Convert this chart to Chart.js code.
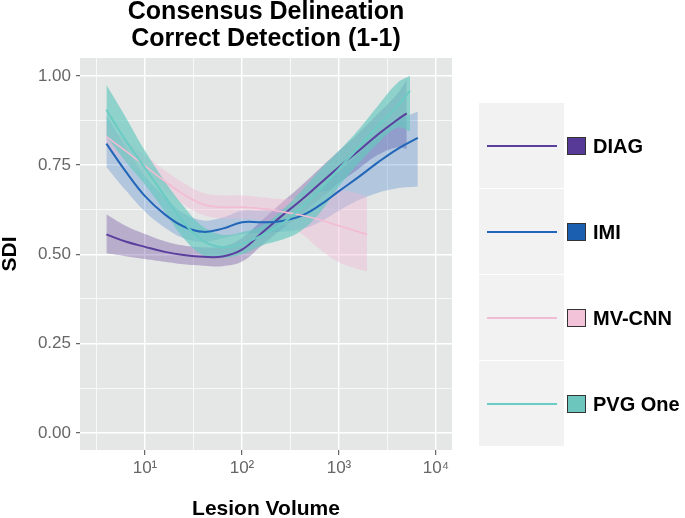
<!DOCTYPE html>
<html>
<head>
<meta charset="utf-8">
<script src="https://cdn.jsdelivr.net/npm/chart.js@4.4.1/dist/chart.umd.min.js"></script>
<style>
    body { margin: 0; background: #fff; }
    #wrap { position: relative; width: 685px; height: 518px; }
    #legend { position: absolute; left: 479px; top: 103px; font-family: "Liberation Sans", Arial, sans-serif; }
    .row { position: absolute; left: 0; width: 206px; height: 85px; }
    .key { position: absolute; left: 0; top: 0; width: 85px; height: 85px; background: #f2f2f2; }
    .sample { position: absolute; left: 8px; top: 42px; width: 70px; height: 2px; }
    .box { position: absolute; left: 88px; top: 34px; width: 17px; height: 16px; border: 1.5px solid #333; }
    .name { position: absolute; left: 114px; top: 33px; font-size: 20px; line-height: 20px; font-weight: bold; color: #000; white-space: nowrap; }
</style>
</head>
<body>
<div id="wrap">
    <canvas id="sdiChart" width="685" height="518"></canvas>
    <div id="legend"></div>
</div>
<script>
// Lesion volume (x) and SDI (smoothed fit with its confidence band) per method
var diagVolume = [4, 6.3, 10, 16, 25, 40, 63, 100, 160, 250, 400, 630, 1000, 1600, 2500, 4000, 5000];
var diagSdi    = [0.556, 0.536, 0.521, 0.507, 0.498, 0.493, 0.494, 0.513, 0.560, 0.605, 0.650, 0.697, 0.745, 0.790, 0.835, 0.877, 0.895];
var diagLow    = [0.503, 0.495, 0.487, 0.479, 0.472, 0.468, 0.467, 0.480, 0.525, 0.568, 0.610, 0.655, 0.700, 0.740, 0.778, 0.800, 0.795];
var diagHigh   = [0.612, 0.580, 0.557, 0.537, 0.525, 0.520, 0.522, 0.546, 0.595, 0.642, 0.690, 0.740, 0.790, 0.840, 0.893, 0.950, 0.990];

var imiVolume = [4, 6.3, 10, 16, 25, 40, 63, 100, 160, 250, 400, 630, 1000, 1600, 2500, 4000, 6500];
var imiSdi    = [0.810, 0.733, 0.663, 0.612, 0.578, 0.563, 0.572, 0.590, 0.590, 0.593, 0.607, 0.637, 0.677, 0.717, 0.757, 0.795, 0.826];
var imiLow    = [0.745, 0.680, 0.620, 0.575, 0.545, 0.535, 0.545, 0.557, 0.560, 0.563, 0.570, 0.590, 0.622, 0.652, 0.672, 0.685, 0.690];
var imiHigh   = [0.890, 0.800, 0.720, 0.660, 0.615, 0.595, 0.603, 0.622, 0.622, 0.626, 0.644, 0.684, 0.732, 0.782, 0.838, 0.875, 0.900];

var mvVolume = [4, 6.3, 10, 16, 25, 40, 63, 100, 160, 250, 400, 630, 1000, 1600, 1950];
var mvSdi    = [0.830, 0.790, 0.748, 0.705, 0.668, 0.640, 0.632, 0.632, 0.628, 0.620, 0.610, 0.597, 0.580, 0.563, 0.556];
var mvLow    = [0.800, 0.760, 0.720, 0.680, 0.640, 0.610, 0.600, 0.600, 0.595, 0.585, 0.560, 0.515, 0.478, 0.458, 0.452];
var mvHigh   = [0.865, 0.820, 0.778, 0.735, 0.700, 0.672, 0.665, 0.665, 0.660, 0.655, 0.660, 0.675, 0.680, 0.670, 0.660];

var pvgVolume = [4, 6.3, 10, 16, 25, 40, 63, 100, 160, 250, 400, 630, 1000, 1600, 2500, 4000, 5400];
var pvgSdi    = [0.905, 0.820, 0.742, 0.663, 0.590, 0.537, 0.520, 0.530, 0.553, 0.583, 0.628, 0.680, 0.740, 0.800, 0.858, 0.915, 0.958];
var pvgLow    = [0.830, 0.760, 0.695, 0.620, 0.545, 0.497, 0.490, 0.500, 0.525, 0.540, 0.565, 0.615, 0.690, 0.755, 0.810, 0.855, 0.845];
var pvgHigh   = [0.975, 0.885, 0.790, 0.705, 0.635, 0.577, 0.555, 0.562, 0.580, 0.620, 0.675, 0.735, 0.790, 0.850, 0.915, 0.980, 1.000];

var seriesNames = ['DIAG', 'IMI', 'MV-CNN', 'PVG One'];
var lineColors  = ['#5b3f9e', '#2166b8', '#f2bcd4', '#6ccbc4'];
var fillColors  = ['rgba(94, 60, 153, 0.33)', 'rgba(40, 110, 200, 0.27)', 'rgba(241, 182, 210, 0.4)', 'rgba(102, 200, 192, 0.68)'];
var boxColors   = ['#573a98', '#1b5fb0', '#f3c3da', '#6cc6be'];

var xGridValues = [Math.pow(10, 0.5), 10, Math.pow(10, 1.5), 100, Math.pow(10, 2.5), 1000, Math.pow(10, 3.5), 10000];
var yGridValues = [0, 0.125, 0.25, 0.375, 0.5, 0.625, 0.75, 0.875, 1];
var superscripts = { 1: '\u00b9', 2: '\u00b2', 3: '\u00b3', 4: '\u2074' };

var series = [
    { volume: diagVolume, sdi: diagSdi, low: diagLow, high: diagHigh },
    { volume: imiVolume, sdi: imiSdi, low: imiLow, high: imiHigh },
    { volume: mvVolume, sdi: mvSdi, low: mvLow, high: mvHigh },
    { volume: pvgVolume, sdi: pvgSdi, low: pvgLow, high: pvgHigh }
];

function points(xs, ys) {
    return xs.map(function(x, i) {
        return { x: x, y: ys[i] };
    });
}

function isMajorX(v) {
    var e = Math.log10(v);
    return Math.abs(e - Math.round(e)) < 1e-6;
}

function isMajorY(v) {
    return Math.abs(v * 4 - Math.round(v * 4)) < 1e-6;
}

// bands first (later methods on top), then all the fitted lines above them
var datasets = [];
var n = series.length;
series.forEach(function(s, i) {
    datasets.push({
        label: seriesNames[i] + ' upper',
        data: points(s.volume, s.high),
        borderColor: 'rgba(0,0,0,0)',
        borderWidth: 0,
        backgroundColor: fillColors[i],
        fill: '+1',
        pointRadius: 0,
        tension: 0.4,
        order: 100 - i * 2
    });
    datasets.push({
        label: seriesNames[i] + ' lower',
        data: points(s.volume, s.low),
        borderColor: 'rgba(0,0,0,0)',
        borderWidth: 0,
        fill: false,
        pointRadius: 0,
        tension: 0.4,
        order: 99 - i * 2
    });
});
series.forEach(function(s, i) {
    datasets.push({
        label: seriesNames[i],
        data: points(s.volume, s.sdi),
        borderColor: lineColors[i],
        borderWidth: i === 2 ? 1.6 : 2,
        fill: false,
        pointRadius: 0,
        tension: 0.4,
        order: n - i
    });
});

var panelBackground = {
    id: 'panelBackground',
    beforeDraw: function(chart) {
        var a = chart.chartArea;
        var ctx = chart.ctx;
        ctx.save();
        ctx.fillStyle = '#e5e6e6';
        ctx.fillRect(a.left, a.top, a.right - a.left, a.bottom - a.top);
        ctx.restore();
    }
};

Chart.defaults.font.family = "'Liberation Sans', Arial, 'DejaVu Sans', sans-serif";

var ctx = document.getElementById('sdiChart').getContext('2d');
new Chart(ctx, {
    type: 'line',
    data: { datasets: datasets },
    plugins: [panelBackground],
    options: {
        responsive: false,
        animation: false,
        events: [],
        layout: { padding: { top: 0, right: 233, bottom: 0, left: 0 } },
        plugins: {
            legend: { display: false },
            tooltip: { enabled: false },
            title: {
                display: true,
                fullSize: false,
                text: ['Consensus Delineation', 'Correct Detection (1-1)'],
                color: '#000',
                font: { size: 25, weight: 'bold', lineHeight: 1.08 },
                padding: { top: -1, bottom: 5 }
            }
        },
        scales: {
            x: {
                type: 'logarithmic',
                min: 2.138,
                max: 14630,
                afterBuildTicks: function(scale) {
                    scale.ticks = xGridValues.map(function(v) { return { value: v }; });
                },
                afterFit: function(scale) {
                    scale.height = 68;
                },
                border: { display: false },
                grid: {
                    color: '#ffffff',
                    lineWidth: function(c) { return c.tick && isMajorX(c.tick.value) ? 1.4 : 0.7; },
                    drawTicks: true,
                    tickLength: 5,
                    tickWidth: 1,
                    tickColor: function(c) { return c.tick && isMajorX(c.tick.value) ? '#444' : 'rgba(0,0,0,0)'; }
                },
                ticks: {
                    color: '#666',
                    font: { size: 17 },
                    padding: 3,
                    autoSkip: false,
                    maxRotation: 0,
                    callback: function(value) {
                        if (!isMajorX(value)) return '';
                        return '10' + superscripts[Math.round(Math.log10(value))];
                    }
                },
                title: {
                    display: true,
                    text: 'Lesion Volume',
                    color: '#000',
                    font: { size: 21, weight: 'bold', lineHeight: 1 },
                    padding: { top: 0, bottom: -2 }
                }
            },
            y: {
                min: -0.048,
                max: 1.05,
                afterBuildTicks: function(scale) {
                    scale.ticks = yGridValues.map(function(v) { return { value: v }; });
                },
                afterFit: function(scale) {
                    scale.width = 80;
                },
                border: { display: false },
                grid: {
                    color: '#ffffff',
                    lineWidth: function(c) { return c.tick && isMajorY(c.tick.value) ? 1.4 : 0.7; },
                    drawTicks: true,
                    tickLength: 4,
                    tickWidth: 1,
                    tickColor: function(c) { return c.tick && isMajorY(c.tick.value) ? '#444' : 'rgba(0,0,0,0)'; }
                },
                ticks: {
                    color: '#666',
                    font: { size: 17 },
                    padding: 5,
                    autoSkip: false,
                    callback: function(value) {
                        return isMajorY(value) ? value.toFixed(2) : '';
                    }
                },
                title: {
                    display: true,
                    text: 'SDI',
                    color: '#000',
                    font: { size: 21, weight: 'bold', lineHeight: 1 },
                    padding: { top: 0, bottom: 0 }
                }
            }
        }
    }
});

// Legend drawn as html next to the panel
var legend = document.getElementById('legend');
seriesNames.forEach(function(name, i) {
    var row = document.createElement('div');
    row.className = 'row';
    row.style.top = (i * 86) + 'px';
    row.innerHTML =
        '<div class="key"><span class="sample" style="background:' + lineColors[i] + '"></span></div>' +
        '<span class="box" style="background:' + boxColors[i] + '"></span>' +
        '<span class="name">' + name + '</span>';
    legend.appendChild(row);
});
</script>
</body>
</html>
